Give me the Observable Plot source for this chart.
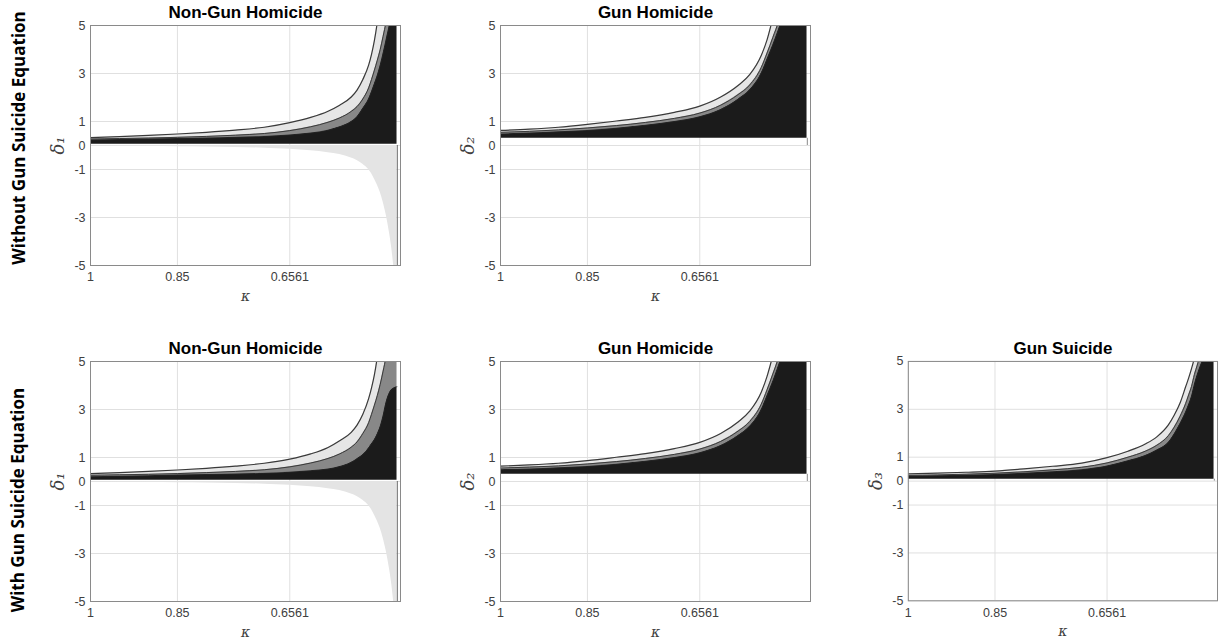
<!DOCTYPE html>
<html><head><meta charset="utf-8">
<script src="https://cdn.jsdelivr.net/npm/d3@7"></script>
<script src="https://cdn.jsdelivr.net/npm/@observablehq/plot@0.6"></script>
<style>
body{margin:0;background:#fff;}
#fig{position:relative;width:1225px;height:641px;overflow:hidden;background:#fff;}
.panel{position:absolute;}
.rowlab{position:absolute;font-family:"Open Sans",sans-serif;font-weight:700;font-size:17px;color:#000;white-space:nowrap;transform:translate(-50%,-50%) rotate(-90deg);}
</style></head><body><div id="fig"></div>
<script>
// κ sample points (x axis runs from κ = 1 down to ~0.465); curves leaving the top are clipped by the frame
const kappa = [1, 0.95, 0.9, 0.85, 0.8, 0.75, 0.7, 0.6561, 0.62, 0.59, 0.57, 0.55, 0.54, 0.53, 0.52, 0.515, 0.51, 0.505, 0.5, 0.495, 0.49, 0.485, 0.48, 0.475, 0.471];
const xTicks = [1, 0.85, 0.6561];
const xTickLabels = ["1", "0.85", "0.6561"];
const yTicks = [-5, -3, -1, 0, 1, 3, 5];
const kEnd = 0.4705;

// Non-Gun Homicide, without gun suicide equation
const ngU1 = [0.33, 0.37, 0.42, 0.48, 0.55, 0.64, 0.76, 0.95, 1.17, 1.43, 1.68, 2.02, 2.31, 2.75, 3.35, 3.8, 4.38, 5.15, 6.2, 7.5, 9, 10, 10, 10, 10];
const ngL1 = [0.27, 0.29, 0.31, 0.34, 0.38, 0.43, 0.5, 0.62, 0.78, 0.97, 1.15, 1.42, 1.62, 1.94, 2.4, 2.75, 3.14, 3.55, 4.0, 4.55, 5.15, 6.0, 7.0, 8.5, 10];
const ngM1 = [0.23, 0.25, 0.27, 0.29, 0.31, 0.34, 0.38, 0.44, 0.52, 0.64, 0.78, 1.0, 1.2, 1.55, 1.95, 2.25, 2.58, 2.93, 3.35, 3.85, 4.4, 4.95, 5.6, 6.5, 7.5];
const ngN1 = [-0.02, -0.03, -0.04, -0.05, -0.06, -0.08, -0.11, -0.16, -0.22, -0.3, -0.38, -0.52, -0.62, -0.78, -1.0, -1.17, -1.4, -1.65, -1.95, -2.35, -2.85, -3.5, -4.3, -5.5, -7];
const ngBase1 = 0.05;

// Gun Homicide, without
const ghU1 = [0.63, 0.68, 0.76, 0.88, 1.02, 1.17, 1.38, 1.64, 2.02, 2.5, 2.95, 3.75, 4.4, 5.3, 6.2, 6.8, 7.5, 8.5, 10, 10, 10, 10, 10, 10, 10];
const ghL1 = [0.55, 0.59, 0.65, 0.73, 0.83, 0.96, 1.13, 1.35, 1.68, 2.12, 2.52, 3.25, 3.85, 4.5, 5.2, 5.7, 6.3, 7.0, 8.0, 9, 10, 10, 10, 10, 10];
const ghM1 = [0.48, 0.52, 0.57, 0.63, 0.72, 0.84, 1.0, 1.2, 1.5, 1.93, 2.32, 3.02, 3.6, 4.2, 4.85, 5.2, 5.6, 6.2, 7.0, 8, 9, 10, 10, 10, 10];
const ghBase1 = 0.3;

// Non-Gun Homicide, with gun suicide equation
const ngU2 = [0.33, 0.37, 0.42, 0.48, 0.55, 0.64, 0.76, 0.93, 1.15, 1.42, 1.7, 2.05, 2.35, 2.8, 3.45, 3.9, 4.45, 5.2, 6.2, 7.5, 9, 10, 10, 10, 10];
const ngL2 = [0.26, 0.28, 0.3, 0.33, 0.37, 0.42, 0.49, 0.61, 0.77, 0.96, 1.15, 1.43, 1.65, 2.0, 2.45, 2.8, 3.18, 3.58, 4.05, 4.6, 5.2, 6.0, 7.0, 8.5, 10];
const ngM2 = [0.2, 0.22, 0.24, 0.27, 0.29, 0.31, 0.34, 0.39, 0.45, 0.52, 0.62, 0.8, 0.95, 1.12, 1.4, 1.57, 1.75, 1.99, 2.3, 2.75, 3.3, 3.66, 3.84, 3.92, 3.95];
const ngN2 = [-0.02, -0.03, -0.04, -0.05, -0.06, -0.08, -0.11, -0.16, -0.22, -0.3, -0.38, -0.52, -0.62, -0.78, -1.0, -1.17, -1.4, -1.65, -1.95, -2.35, -2.85, -3.5, -4.3, -5.5, -7];
const ngBase2 = 0.05;

// Gun Homicide, with
const ghU2 = [0.64, 0.69, 0.76, 0.87, 1.01, 1.16, 1.37, 1.63, 2.0, 2.48, 2.93, 3.72, 4.38, 5.25, 6.2, 6.8, 7.5, 8.5, 10, 10, 10, 10, 10, 10, 10];
const ghL2 = [0.56, 0.6, 0.65, 0.73, 0.83, 0.96, 1.13, 1.35, 1.67, 2.1, 2.5, 3.22, 3.82, 4.48, 5.2, 5.7, 6.3, 7.0, 8.0, 9, 10, 10, 10, 10, 10];
const ghM2 = [0.49, 0.52, 0.57, 0.63, 0.72, 0.84, 1.0, 1.2, 1.5, 1.92, 2.3, 3.0, 3.58, 4.18, 4.85, 5.2, 5.6, 6.2, 7.0, 8, 9, 10, 10, 10, 10];
const ghBase2 = 0.3;

// Gun Suicide, with
const gsU2 = [0.3, 0.33, 0.37, 0.42, 0.51, 0.62, 0.75, 0.98, 1.25, 1.55, 1.85, 2.35, 2.75, 3.25, 3.95, 4.3, 4.7, 5.15, 5.8, 6.6, 7.6, 9, 10, 10, 10];
const gsL2 = [0.24, 0.26, 0.29, 0.33, 0.39, 0.47, 0.58, 0.76, 1.0, 1.25, 1.5, 1.9, 2.25, 2.7, 3.25, 3.6, 3.95, 4.45, 4.85, 5.3, 5.9, 6.6, 7.5, 8.5, 9.5];
const gsM2 = [0.2, 0.22, 0.25, 0.28, 0.33, 0.39, 0.48, 0.63, 0.85, 1.07, 1.3, 1.62, 1.97, 2.4, 2.9, 3.2, 3.55, 4.05, 4.45, 4.8, 5.1, 5.5, 6.0, 6.6, 7.2];
const gsBase2 = 0.08;

const titles = ["Non-Gun Homicide", "Gun Homicide", "Gun Suicide"];
const yLabels = ["δ₁", "δ₂", "δ₃"];
const rowLabels = ["Without Gun Suicide Equation", "With Gun Suicide Equation"];

const fig = document.getElementById("fig");
const ML = 70, MT = 25, MR = 8, MB = 40, FW = 310, FH = 240;

function panel({title, ylab, U, L, M, base, N, fx, fy}) {
  const rows = kappa.map((k, i) => ({k, u: U[i], l: L[i], m: M[i], n: N ? N[i] : 0}));
  const curve = "monotone-x";
  const marks = [
    Plot.ruleX(xTicks, {stroke: "#e0e0e0", strokeWidth: 1}),
    Plot.ruleY(yTicks, {stroke: "#e0e0e0", strokeWidth: 1}),
  ];
  if (N) {
    marks.push(Plot.areaY(rows, {x: "k", y1: "n", y2: 0, fill: "#e4e4e4", curve, clip: true}));
    marks.push(Plot.ruleX([kEnd], {y1: -5, y2: 0, stroke: "#6a6a6a", strokeWidth: 1}));
  } else {
    marks.push(Plot.ruleX([kEnd], {y1: 0, y2: base, stroke: "#8a8a8a", strokeWidth: 1}));
  }
  marks.push(
    Plot.areaY(rows, {x: "k", y1: "l", y2: "u", fill: "#e6e6e6", curve, clip: true}),
    Plot.areaY(rows, {x: "k", y1: "m", y2: "l", fill: "#888888", curve, clip: true}),
    Plot.areaY(rows, {x: "k", y1: base, y2: "m", fill: "#1b1b1b", curve, clip: true}),
    Plot.lineY(rows, {x: "k", y: "u", stroke: "#3a3a3a", strokeWidth: 1.2, curve, clip: true}),
    Plot.lineY(rows, {x: "k", y: "l", stroke: "#3a3a3a", strokeWidth: 1, curve, clip: true}),
    Plot.lineY(rows, {x: "k", y: "m", stroke: "#2a2a2a", strokeWidth: 0.6, curve, clip: true}),
    Plot.frame({stroke: "#8a8a8a", strokeWidth: 1}),
    Plot.text([title], {frameAnchor: "top", lineAnchor: "middle", dy: -13, text: d => d, fontWeight: "bold", fontSize: 17, fill: "#000", fontFamily: "Liberation Sans, Arial, sans-serif"}),
    Plot.text([ylab], {frameAnchor: "left", textAnchor: "middle", lineAnchor: "middle", dx: -32, rotate: -90, text: d => d, fontSize: 18, fontStyle: "italic", fill: "#404040", fontFamily: "DejaVu Serif, serif"}),
    Plot.text(["κ"], {frameAnchor: "bottom", lineAnchor: "middle", dy: 31, text: d => d, fontSize: 14, fontStyle: "italic", fill: "#404040", fontFamily: "DejaVu Serif, serif"})
  );
  const svg = Plot.plot({
    width: ML + FW + MR, height: MT + FH + MB,
    marginLeft: ML, marginTop: MT, marginRight: MR, marginBottom: MB,
    style: {fontFamily: "Liberation Sans, Arial, sans-serif", fontSize: "12.5px", color: "#404040", background: "transparent", overflow: "visible"},
    x: {type: "linear", domain: [1, 0.465], ticks: xTicks, tickFormat: (d) => xTickLabels[xTicks.indexOf(d)], tickSize: 0, tickPadding: 7, label: null},
    y: {type: "linear", domain: [-5, 5], ticks: yTicks, tickFormat: d => String(d).replace("−", "-"), tickSize: 0, tickPadding: 5, label: null},
    marks
  });
  const div = document.createElement("div");
  div.className = "panel";
  div.style.left = (fx - ML) + "px";
  div.style.top = (fy - MT) + "px";
  div.appendChild(svg);
  fig.appendChild(div);
}

panel({title: titles[0], ylab: yLabels[0], U: ngU1, L: ngL1, M: ngM1, base: ngBase1, N: ngN1, fx: 90, fy: 25});
panel({title: titles[1], ylab: yLabels[1], U: ghU1, L: ghL1, M: ghM1, base: ghBase1, N: null, fx: 500, fy: 25});
panel({title: titles[0], ylab: yLabels[0], U: ngU2, L: ngL2, M: ngM2, base: ngBase2, N: ngN2, fx: 90, fy: 361});
panel({title: titles[1], ylab: yLabels[1], U: ghU2, L: ghL2, M: ghM2, base: ghBase2, N: null, fx: 500, fy: 361});
panel({title: titles[2], ylab: yLabels[2], U: gsU2, L: gsL2, M: gsM2, base: gsBase2, N: null, fx: 908, fy: 361});

const r1 = document.createElement("div");
r1.className = "rowlab"; r1.textContent = rowLabels[0];
r1.style.left = "18px"; r1.style.top = "138px";
fig.appendChild(r1);
const r2 = document.createElement("div");
r2.className = "rowlab"; r2.textContent = rowLabels[1];
r2.style.left = "17px"; r2.style.top = "500px";
fig.appendChild(r2);
</script>
</body></html>
